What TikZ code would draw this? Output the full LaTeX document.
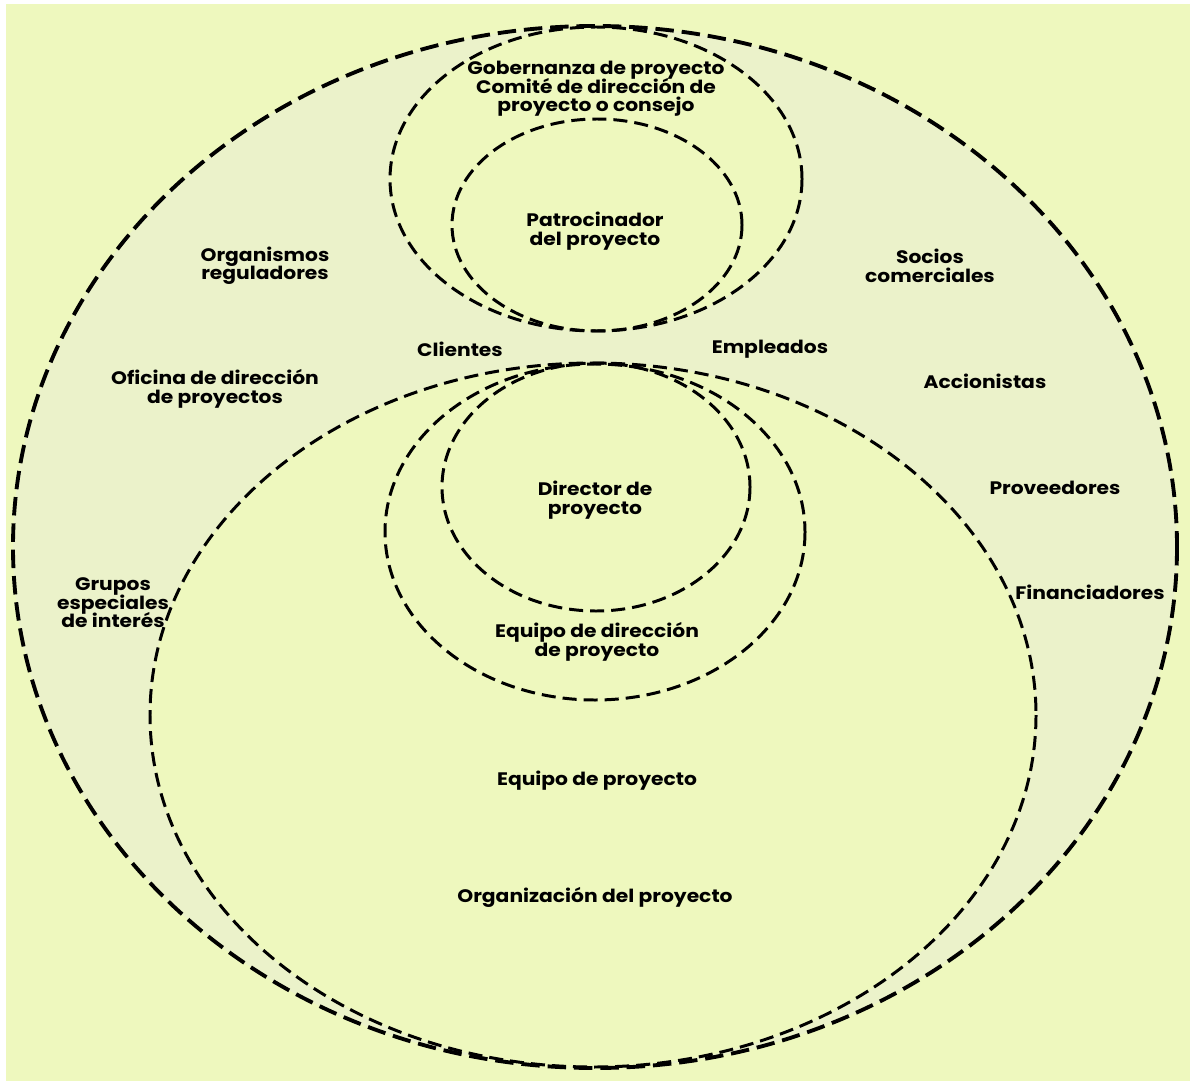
\documentclass[tikz,border=0pt]{standalone}
\usepackage{fontspec}
\setmainfont[FakeStretch=1.12]{Poppins}
\definecolor{bgyellow}{RGB}{238,248,190}
\definecolor{ringyellow}{RGB}{235,242,202}
\newcommand\lblfont{\bfseries\fontsize{10.3}{10.5}\selectfont\lineskiplimit=-20pt\relax}
\begin{document}
\begin{tikzpicture}[x=0.02cm, y=-0.02cm,
    bigring/.style={dash pattern=on 10.5pt off 4.5pt, line width=2.2pt},
    ring/.style={dash pattern=on 8pt off 4pt, line width=1.7pt},
    lbl/.style={font=\lblfont, align=center, inner sep=0pt}]
  \useasboundingbox (0,0) rectangle (1192,1081);
  \fill[white] (0,0) rectangle (1192,1081);
  \fill[bgyellow] (6,4) rectangle (1190,1081);
  % shaded band of the wider circle
  \fill[ringyellow] (595,547) ellipse (582 and 521);
  \fill[bgyellow] (593,715) ellipse (443 and 352);
  \fill[bgyellow] (596,179) ellipse (206 and 152);
  % the circles
  \draw[bigring] (595,547) ellipse (582 and 521);
  \draw[ring] (596,179) ellipse (206 and 152);
  \draw[ring] (597,225) ellipse (145 and 106);
  \draw[ring] (593,715) ellipse (443 and 352);
  \draw[ring] (595,532) ellipse (210 and 168);
  \draw[ring] (596,487) ellipse (154 and 124);
  % labels
  \node[lbl] (gob) at (596,89) {Gobernanza de proyecto\\Comité de dirección de\\proyecto o consejo};
  \node[lbl] (patro) at (595,231) {Patrocinador\\del proyecto};
  \node[lbl] (regul) at (265,266) {Organismos\\reguladores};
  \node[lbl] (socios) at (930,266) {Socios\\comerciales};
  \node[lbl] (clientes) at (460,349) {Clientes};
  \node[lbl] (emple) at (770,349) {Empleados};
  \node[lbl] (pmo) at (215,389) {Oficina de dirección\\de proyectos};
  \node[lbl] (accion) at (985,381) {Accionistas};
  \node[lbl] (director) at (595,500) {Director de\\proyecto};
  \node[lbl] (prov) at (1055,488) {Proveedores};
  \node[lbl] (grupos) at (113,603) {Grupos\\especiales\\de interés};
  \node[lbl] (finan) at (1090,592) {Financiadores};
  \node[lbl] (eqdir) at (597,642) {Equipo de dirección\\de proyecto};
  \node[lbl] (eqproy) at (597,781) {Equipo de proyecto};
  \node[lbl] (orga) at (595,897) {Organización del proyecto};
\end{tikzpicture}
\end{document}
